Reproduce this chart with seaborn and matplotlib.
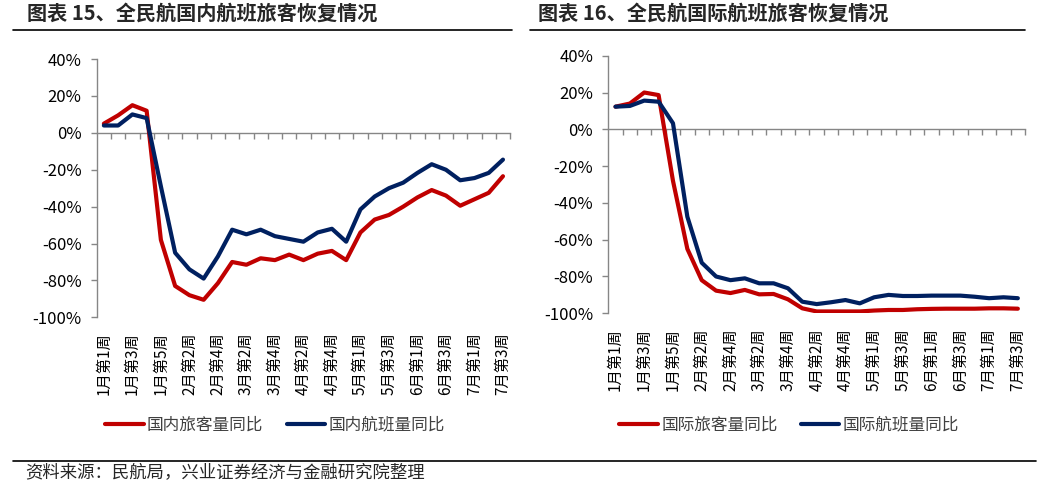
import numpy as np
import pandas as pd
import matplotlib
matplotlib.use("Agg")
import matplotlib.pyplot as plt
from matplotlib.lines import Line2D
from matplotlib.ticker import FuncFormatter
import seaborn as sns

# weeks of the year (only every other one is labelled)
weeks = ['1月第1周', '1月第2周', '1月第3周', '1月第4周', '1月第5周',
         '2月第1周', '2月第2周', '2月第3周', '2月第4周',
         '3月第1周', '3月第2周', '3月第3周', '3月第4周',
         '4月第1周', '4月第2周', '4月第3周', '4月第4周', '4月第5周',
         '5月第1周', '5月第2周', '5月第3周', '5月第4周',
         '6月第1周', '6月第2周', '6月第3周', '6月第4周',
         '7月第1周', '7月第2周', '7月第3周']

# domestic, yoy %
dom_pax = [5, 9.5, 15, 12, -58, -83, -88, -90.5, -81.5, -70, -71.5, -68, -69, -66,
           -69, -65.5, -64, -69, -54, -47, -44.5, -40, -35, -31, -34, -39.5, -36, -32.5, -23.5]
dom_flt = [4, 4, 10, 8, -29, -65, -74, -79, -67, -52.5, -55, -52.5, -56, -57.5,
           -59, -54, -52, -59, -41.5, -34.5, -30, -27, -21.7, -17, -20, -25.7, -24.5, -21.7, -14.5]

# international, yoy %
intl_pax = [12.3, 14, 20, 18.6, -28, -65, -82, -87.7, -89, -87.3, -89.7, -89.5, -92.4, -97.3,
            -99, -99, -99, -99, -98.5, -98.2, -98.2, -97.8, -97.6, -97.5, -97.5, -97.5, -97.3, -97.3, -97.5]
intl_flt = [12.3, 12.7, 15.6, 15, 3.3, -47.5, -72.5, -80, -82, -81, -83.7, -83.7, -86.4, -93.7,
            -95, -94, -92.8, -94.6, -91.3, -90, -90.6, -90.6, -90.4, -90.4, -90.4, -91, -91.8, -91.3, -91.8]

dom_names = ['国内旅客量同比', '国内航班量同比']
intl_names = ['国际旅客量同比', '国际航班量同比']

sns.set_theme(style="white")
plt.rcParams['font.family'] = ['Noto Sans CJK SC', 'DejaVu Sans']
plt.rcParams['axes.unicode_minus'] = False

RED = '#C00000'
NAVY = '#002060'
GREY = '#868686'

W, H = 1055, 484
fig = plt.figure(figsize=(W / 100, H / 100), dpi=100)
ax1 = fig.add_axes([0.0917, 0.3444, 0.3918, 0.5335])
ax2 = fig.add_axes([0.5766, 0.3527, 0.3950, 0.5322])


def draw(ax, pax, flt, names, leg_xy):
    df = pd.DataFrame({'week': range(len(weeks)), names[0]: pax, names[1]: flt})
    long = df.melt(id_vars='week', var_name='series', value_name='yoy')
    sns.lineplot(data=long, x='week', y='yoy', hue='series',
                 palette={names[0]: RED, names[1]: NAVY}, linewidth=3,
                 solid_joinstyle='round', solid_capstyle='round',
                 ax=ax, legend=False)
    ax.set_xlim(-0.5, len(weeks) - 0.5)
    ax.set_ylim(-100, 40)
    ax.set_xlabel('')
    ax.set_ylabel('')
    for s in ['top', 'right', 'bottom']:
        ax.spines[s].set_visible(False)
    ax.spines['left'].set_color(GREY)
    ax.spines['left'].set_linewidth(1)

    ax.set_yticks(range(-100, 41, 20))
    ax.yaxis.set_major_formatter(FuncFormatter(lambda v, p: f'{v:.0f}%'))
    ax.tick_params(axis='y', left=True, direction='out', length=4, width=1,
                   color=GREY, labelsize=12, pad=7, labelcolor='black')

    ax.set_xticks(range(0, len(weeks), 2))
    ax.set_xticklabels(weeks[::2], rotation=90, fontsize=11, color='black')
    ax.tick_params(axis='x', bottom=False, length=0, pad=11)

    # category axis drawn at 0%
    sec = ax.secondary_xaxis(0, transform=ax.transData)
    sec.set_xticks(np.arange(0.5, len(weeks), 1))
    sec.set_xticklabels([])
    for s in sec.spines.values():
        s.set_color(GREY)
        s.set_linewidth(1)
    sec.tick_params(axis='x', bottom=True, top=False, direction='out', length=4,
                    width=1, color=GREY, labelbottom=False)

    ax.legend(handles=ax.lines[:2], labels=names, loc='center', bbox_to_anchor=leg_xy,
              ncol=2, frameon=False, fontsize=12, handlelength=2.3, handletextpad=0.2,
              columnspacing=1.4, labelcolor='#404040')


draw(ax1, dom_pax, dom_flt, dom_names, (0.431, -0.417))
draw(ax2, intl_pax, intl_flt, intl_names, (0.434, -0.434))

fig.text(27 / W, 1 - 13 / H, '图表 15、全民航国内航班旅客恢复情况', fontsize=14.5,
         fontweight='bold', ha='left', va='center')
fig.text(538 / W, 1 - 13 / H, '图表 16、全民航国际航班旅客恢复情况', fontsize=14.5,
         fontweight='bold', ha='left', va='center')
fig.add_artist(Line2D([13 / W, 512 / W], [1 - 30 / H] * 2, color='black', lw=1.2))
fig.add_artist(Line2D([530 / W, 1025 / W], [1 - 30 / H] * 2, color='black', lw=1.2))

fig.add_artist(Line2D([13 / W, 1036 / W], [1 - 461 / H] * 2, color='black', lw=1.2))
fig.text(25 / W, 1 - 472 / H, '资料来源：民航局，兴业证券经济与金融研究院整理', fontsize=12.5,
         ha='left', va='center')

fig.savefig('out.png', dpi=100, facecolor='white')
